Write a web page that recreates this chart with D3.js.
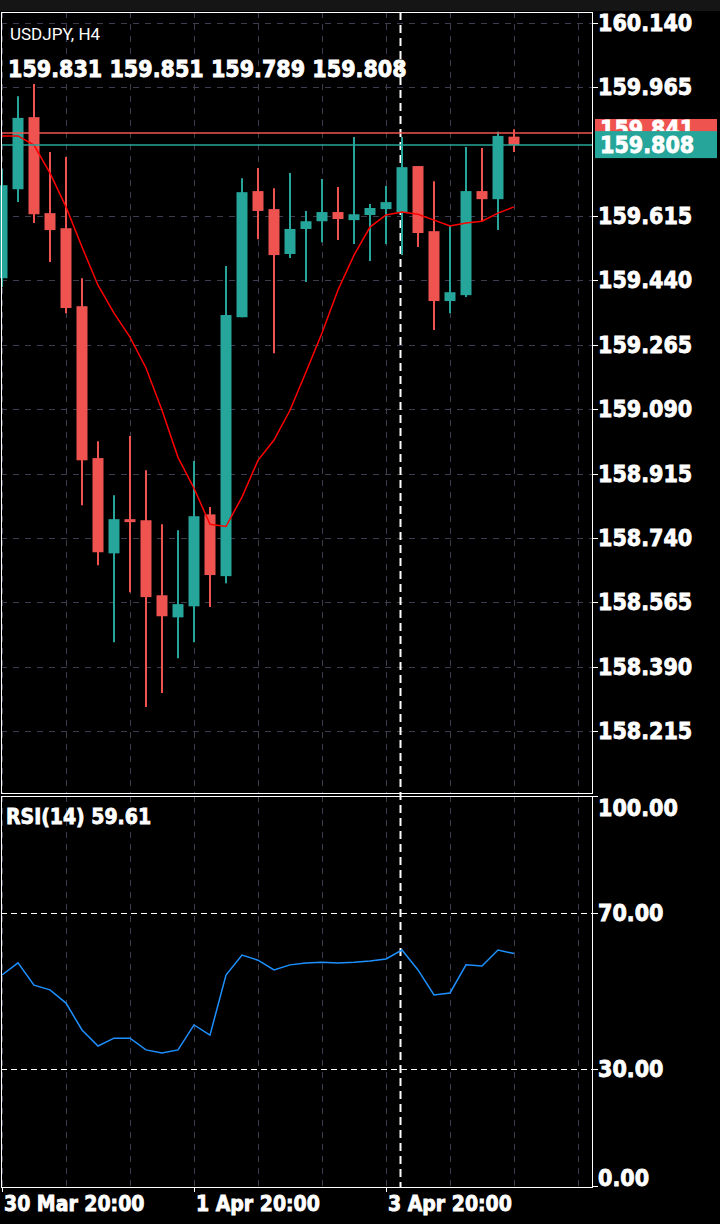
<!DOCTYPE html>
<html><head><meta charset="utf-8">
<script src="https://cdn.jsdelivr.net/npm/d3@7"></script>
<style>body{margin:0;background:#000}svg{display:block}</style>
</head><body>
<script>
const opens  = [159.446,159.688,159.884,159.623,159.582,159.370,158.957,158.698,158.791,158.788,158.584,158.524,158.554,158.804,158.636,159.340,159.683,159.634,159.512,159.580,159.601,159.626,159.604,159.618,159.634,159.626,159.751,159.574,159.384,159.400,159.683,159.661,159.831];
const highs  = [159.743,159.941,159.974,159.789,159.776,159.446,159.003,158.856,159.017,158.924,158.777,158.761,158.949,158.824,159.479,159.718,159.746,159.691,159.732,159.629,159.716,159.694,159.830,159.648,159.697,159.830,159.751,159.710,159.588,159.803,159.800,159.844,159.851];
const lows   = [159.422,159.653,159.596,159.490,159.351,158.829,158.666,158.456,158.592,158.280,158.318,158.413,158.456,158.552,158.617,159.340,159.552,159.242,159.501,159.436,159.544,159.550,159.539,159.493,159.539,159.509,159.531,159.305,159.351,159.395,159.601,159.577,159.789];
const closes = [159.699,159.882,159.620,159.577,159.365,158.951,158.701,158.791,158.783,158.579,158.527,158.560,158.799,158.639,159.346,159.680,159.629,159.509,159.580,159.601,159.626,159.607,159.620,159.637,159.653,159.748,159.569,159.384,159.408,159.683,159.661,159.833,159.808];
const maValues = [159.833,159.833,159.808,159.732,159.640,159.531,159.427,159.351,159.286,159.202,159.087,158.959,158.875,158.777,158.771,158.851,158.951,159.006,159.087,159.191,159.297,159.414,159.509,159.585,159.618,159.626,159.620,159.604,159.588,159.596,159.601,159.623,159.640];
const rsiValues = [54.1,57.2,51.5,50.3,46.9,40.0,35.9,37.9,37.9,34.9,34.1,34.9,41.3,38.7,54.1,59.2,57.9,55.4,56.7,57.2,57.4,57.2,57.4,57.7,58.2,60.5,55.4,49.0,49.5,56.7,56.4,60.5,59.61];
const priceTicks = [160.140,159.965,159.615,159.440,159.265,159.090,158.915,158.740,158.565,158.390,158.215];
const rsiTicks = [100,70,30,0];
const timeLabels = [{i:0,t:"30 Mar 20:00"},{i:12,t:"1 Apr 20:00"},{i:24,t:"3 Apr 20:00"}];
const header = "USDJPY, H4";
const ohlcText = "159.831 159.851 159.789 159.808";
const askPrice = 159.841, bidPrice = 159.808;

const W=720,H=1224, L=1, R=592, T=12, B=793, RT=796, RB=1187;
const up="#26a69a", dn="#ef5350";
const svg=d3.select("body").append("svg").attr("width",W).attr("height",H);
svg.append("rect").attr("width",W).attr("height",H).attr("fill","#000");
svg.append("rect").attr("width",W).attr("height",11).attr("fill","#151515");

const idx=d3.range(37);
const x=d3.scaleBand().domain(idx).range([-6,586]);
const cx=i=>x(i)+x.bandwidth()/2;
const y=d3.scaleLinear().domain([158.215,160.140]).range([731,23]);
const yr=d3.scaleLinear().domain([0,100]).range([1186,796]);

const grid=svg.append("g").attr("stroke","#3d3d50").attr("stroke-dasharray","6,6").attr("stroke-width",1);
priceTicks.forEach(p=>grid.append("line").attr("x1",L).attr("x2",R).attr("y1",Math.round(y(p))+.5).attr("y2",Math.round(y(p))+.5));
d3.range(0,37,4).forEach(i=>{
  grid.append("line").attr("x1",Math.round(cx(i))+.5).attr("x2",Math.round(cx(i))+.5).attr("y1",T).attr("y2",B);
  grid.append("line").attr("x1",Math.round(cx(i))+.5).attr("x2",Math.round(cx(i))+.5).attr("y1",RT).attr("y2",RB);
});
[70,30].forEach(v=>svg.append("line").attr("x1",L).attr("x2",R).attr("y1",Math.round(yr(v))+.5).attr("y2",Math.round(yr(v))+.5).attr("stroke","#fff").attr("stroke-dasharray","6,4"));

// crosshair
const chx=Math.round(cx(25))-1.5;
svg.append("line").attr("x1",chx).attr("x2",chx).attr("y1",T).attr("y2",RB).attr("stroke","#fff").attr("stroke-width",2).attr("stroke-dasharray","8,5");

// candles
const g=svg.append("g");
opens.forEach((o,i)=>{
  const c=closes[i], col=c>=o?up:dn, xc=Math.round(cx(i));
  g.append("line").attr("x1",xc).attr("x2",xc).attr("y1",y(highs[i])).attr("y2",y(lows[i])).attr("stroke",col).attr("stroke-width",2);
  const y0=y(Math.max(o,c)), y1=y(Math.min(o,c));
  g.append("rect").attr("x",xc-5.5).attr("width",11).attr("y",y0).attr("height",Math.max(3,y1-y0)).attr("fill",col);
});
// MA
svg.append("path").datum(maValues).attr("fill","none").attr("stroke","#ff0000").attr("stroke-width",1.5)
  .attr("d",d3.line().x((d,i)=>cx(i)).y(d=>y(d)));
// RSI
svg.append("path").datum(rsiValues).attr("fill","none").attr("stroke","#1e90ff").attr("stroke-width",1.5)
  .attr("d",d3.line().x((d,i)=>cx(i)).y(d=>yr(d)));

// ask/bid lines
svg.append("line").attr("x1",L).attr("x2",R).attr("y1",y(askPrice)).attr("y2",y(askPrice)).attr("stroke",dn).attr("stroke-width",1.5);
svg.append("line").attr("x1",L).attr("x2",R).attr("y1",y(bidPrice)).attr("y2",y(bidPrice)).attr("stroke",up).attr("stroke-width",1.5);

// frames
svg.append("rect").attr("x",1.5).attr("y",T+.5).attr("width",R-1).attr("height",B-T).attr("fill","none").attr("stroke","#fff");
svg.append("rect").attr("x",1.5).attr("y",RT+.5).attr("width",R-1).attr("height",RB-RT).attr("fill","none").attr("stroke","#fff");

const F="'Liberation Sans Narrow','DejaVu Sans Condensed',sans-serif";
function label(t,xx,yy,size,anchor){
  return svg.append("text").attr("x",xx).attr("y",yy).attr("fill","#fff").attr("font-family",F).attr("font-weight","bold")
   .attr("font-size",size).attr("text-anchor",anchor||"start").attr("stroke","#fff").attr("stroke-width",0.8).text(t);
}
// price axis
priceTicks.forEach(p=>{
  svg.append("line").attr("x1",R).attr("x2",R+6).attr("y1",Math.round(y(p))+.5).attr("y2",Math.round(y(p))+.5).attr("stroke","#fff");
  label(p.toFixed(3),598,y(p)+8,23);
});
rsiTicks.forEach(v=>{
  const yy=Math.max(808,yr(v));
  svg.append("line").attr("x1",R).attr("x2",R+6).attr("y1",Math.round(yr(v))+.5).attr("y2",Math.round(yr(v))+.5).attr("stroke","#fff");
  label(v.toFixed(2),598,Math.min(yy,1178)+8,23);
});
// price boxes
svg.append("rect").attr("x",595).attr("y",y(askPrice)-14).attr("width",122).attr("height",16).attr("fill",dn);
label(askPrice.toFixed(3),600,y(askPrice)+4,23);
svg.append("rect").attr("x",595).attr("y",y(bidPrice)-14).attr("width",122).attr("height",27).attr("fill",up);
label(bidPrice.toFixed(3),600,y(bidPrice)+8,23);

// time axis
timeLabels.forEach(d=>{
  const xx=Math.round(cx(d.i));
  svg.append("line").attr("x1",xx+.5).attr("x2",xx+.5).attr("y1",RB).attr("y2",RB+5).attr("stroke","#fff");
  label(d.t,xx+2,1211,21);
});

svg.append("text").attr("x",10).attr("y",40).attr("fill","#fff").attr("font-family","Roboto,sans-serif").attr("font-size",17).text(header);
label(ohlcText,8,77,23);
label("RSI(14) 59.61",6,824,21);
</script>
</body></html>
